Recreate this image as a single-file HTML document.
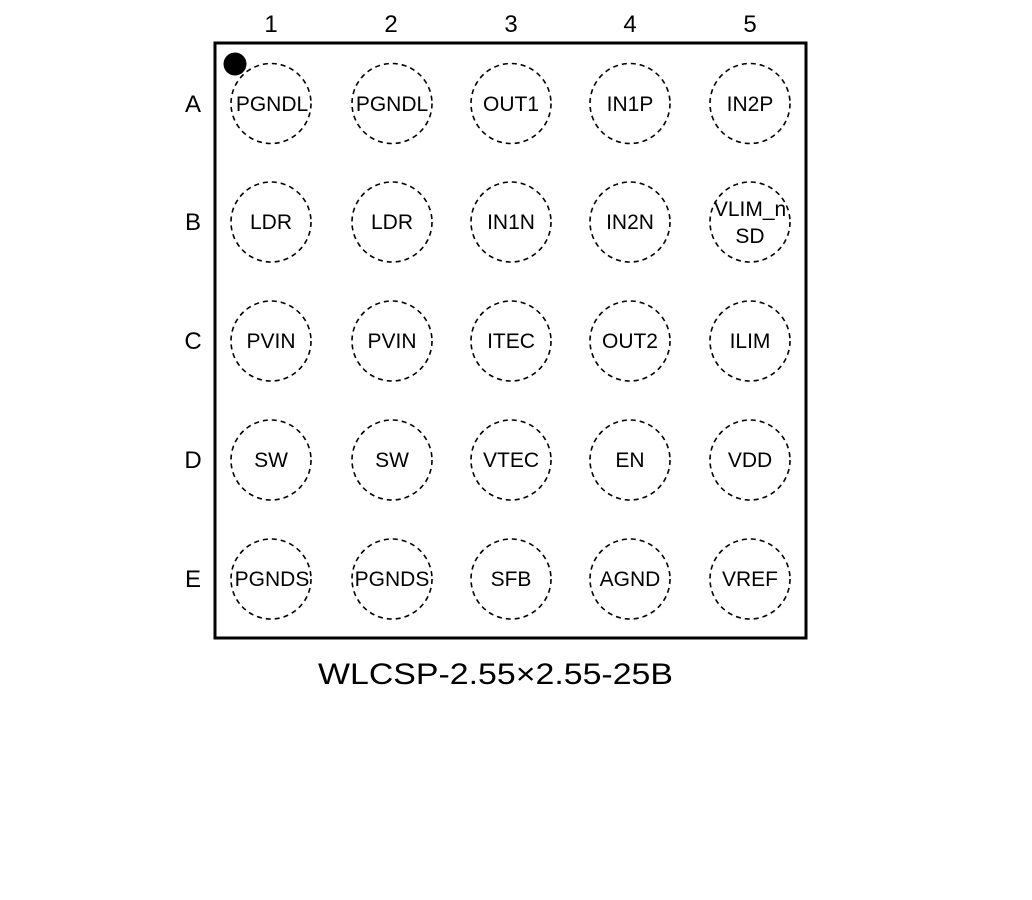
<!DOCTYPE html>
<html><head><meta charset="utf-8"><style>
html,body{margin:0;padding:0;background:#fff;width:1032px;height:900px;overflow:hidden}
text{font-family:"Liberation Sans",Arial,sans-serif;fill:#000}
</style></head><body>
<svg width="1032" height="900" viewBox="0 0 1032 900" xmlns="http://www.w3.org/2000/svg">
<rect x="215" y="43" width="591" height="595" fill="none" stroke="#000" stroke-width="3"/>
<circle cx="235" cy="64" r="11.5" fill="#000"/>
<g font-size="24" text-anchor="middle">
<text x="271" y="32">1</text><text x="391" y="32">2</text><text x="511" y="32">3</text><text x="630" y="32">4</text><text x="750" y="32">5</text>
<text x="193" y="112">A</text><text x="193" y="230">B</text><text x="193" y="349">C</text><text x="193" y="468">D</text><text x="193" y="587">E</text>
</g>
<g fill="none" stroke="#000" stroke-width="1.6" stroke-dasharray="5,4">
<circle cx="271" cy="103.5" r="40"/><circle cx="392" cy="103.5" r="40"/><circle cx="511" cy="103.5" r="40"/><circle cx="630" cy="103.5" r="40"/><circle cx="750" cy="103.5" r="40"/>
<circle cx="271" cy="222" r="40"/><circle cx="392" cy="222" r="40"/><circle cx="511" cy="222" r="40"/><circle cx="630" cy="222" r="40"/><circle cx="750" cy="222" r="40"/>
<circle cx="271" cy="341" r="40"/><circle cx="392" cy="341" r="40"/><circle cx="511" cy="341" r="40"/><circle cx="630" cy="341" r="40"/><circle cx="750" cy="341" r="40"/>
<circle cx="271" cy="460" r="40"/><circle cx="392" cy="460" r="40"/><circle cx="511" cy="460" r="40"/><circle cx="630" cy="460" r="40"/><circle cx="750" cy="460" r="40"/>
<circle cx="271" cy="579" r="40"/><circle cx="392" cy="579" r="40"/><circle cx="511" cy="579" r="40"/><circle cx="630" cy="579" r="40"/><circle cx="750" cy="579" r="40"/>
</g>
<g font-size="21" text-anchor="middle">
<text x="272" y="111">PGNDL</text><text x="392" y="111">PGNDL</text><text x="511" y="111">OUT1</text><text x="630" y="111">IN1P</text><text x="750" y="111">IN2P</text>
<text x="271" y="229">LDR</text><text x="392" y="229">LDR</text><text x="511" y="229">IN1N</text><text x="630" y="229">IN2N</text><text x="750" y="216">VLIM_n</text><text x="750" y="243">SD</text>
<text x="271" y="348">PVIN</text><text x="392" y="348">PVIN</text><text x="511" y="348">ITEC</text><text x="630" y="348">OUT2</text><text x="750" y="348">ILIM</text>
<text x="271" y="467">SW</text><text x="392" y="467">SW</text><text x="511" y="467">VTEC</text><text x="630" y="467">EN</text><text x="750" y="467">VDD</text>
<text x="272" y="586">PGNDS</text><text x="392" y="586">PGNDS</text><text x="511" y="586">SFB</text><text x="630" y="586">AGND</text><text x="750" y="586">VREF</text>
</g>
<text x="318" y="684" font-size="30" textLength="355" lengthAdjust="spacingAndGlyphs">WLCSP-2.55×2.55-25B</text>
</svg>
</body></html>
